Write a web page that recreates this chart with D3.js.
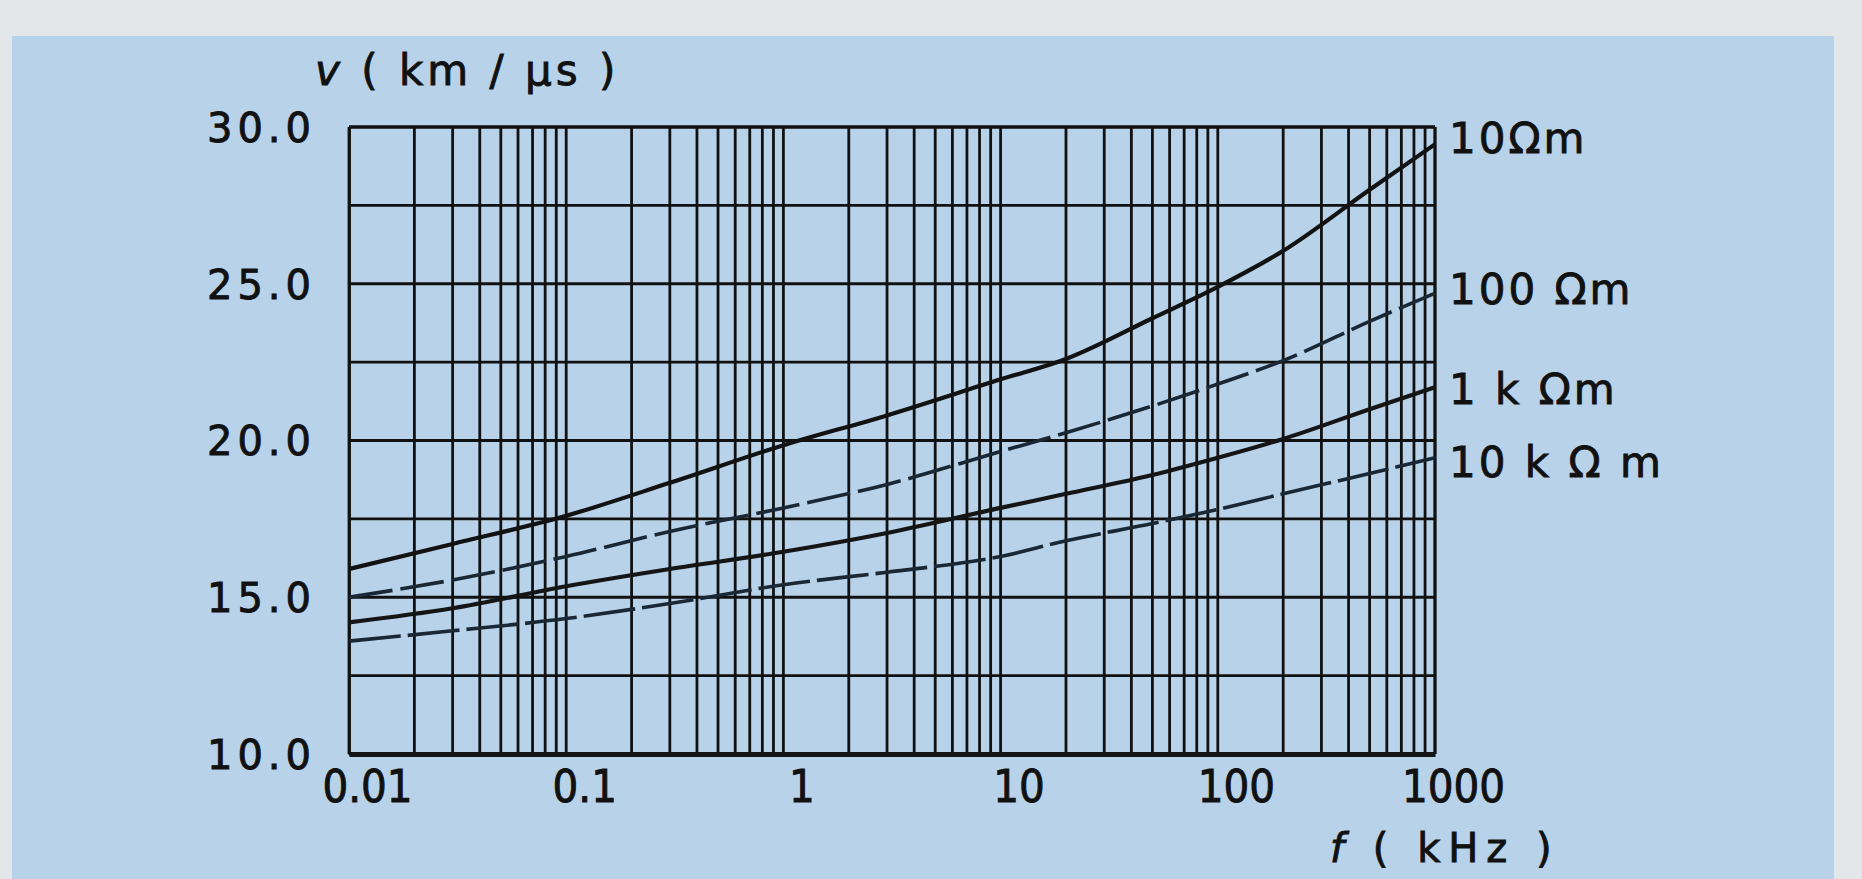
<!DOCTYPE html>
<html>
<head>
<meta charset="utf-8">
<script src="https://cdn.jsdelivr.net/npm/d3@7/dist/d3.min.js"></script>
<style>
  html, body { margin: 0; padding: 0; background: #e4e8eb; }
  svg { display: block; }
</style>
</head>
<body>
<svg id="chart" width="1862" height="879"></svg>
<script>
// ---- data ----
const freqs = [0.01, 0.03, 0.1, 0.3, 1, 3, 10, 20, 50, 100, 200, 500, 1000]; // kHz
const v10ohm  = [15.9, 16.7, 17.6, 18.65, 19.85, 20.8, 21.95, 22.6, 23.9, 24.9, 26.05, 28.0, 29.45];
const v100ohm = [15.0, 15.55, 16.3, 17.1, 17.85, 18.6, 19.65, 20.25, 21.1, 21.8, 22.55, 23.8, 24.7];
const v1kohm  = [14.2, 14.65, 15.35, 15.9, 16.45, 17.05, 17.85, 18.3, 18.9, 19.45, 20.05, 21.0, 21.7];
const v10kohm = [13.6, 13.93, 14.32, 14.8, 15.4, 15.8, 16.3, 16.8, 17.35, 17.8, 18.3, 18.95, 19.45];
const seriesNames = ["10Ωm", "100 Ωm", "1 k Ωm", "10 k Ω m"];
const xTickValues = [0.01, 0.1, 1, 10, 100, 1000];
const xTickLabels = ["0.01", "0.1", "1", "10", "100", "1000"];
const yTickValues = [10, 15, 20, 25, 30];
const yTickLabels = ["10.0", "15.0", "20.0", "25.0", "30.0"];
const yGridValues = [10, 12.5, 15, 17.5, 20, 22.5, 25, 27.5, 30];
const yTitleSymbol = "v", yTitleUnit = " ( km / μs )";
const xTitleSymbol = "f", xTitleUnit = " ( kHz )";

const series = [
  { name: seriesNames[0], values: v10ohm,  width: 4.2, color: "#121212", dash: null },
  { name: seriesNames[1], values: v100ohm, width: 3.6, color: "#1a2735", dash: "44 8" },
  { name: seriesNames[2], values: v1kohm,  width: 4.2, color: "#151515", dash: null },
  { name: seriesNames[3], values: v10kohm, width: 3.6, color: "#1a2735", dash: "52 7" }
];

const svg = d3.select("#chart");
const W = 1862, H = 879;
const margin = { left: 349, top: 127, right: 427, bottom: 125 };
const iw = W - margin.left - margin.right;
const ih = H - margin.top - margin.bottom;

// panel background
svg.append("rect").attr("x", 0).attr("y", 0).attr("width", W).attr("height", H).attr("fill", "#e3e7ea");
svg.append("rect").attr("x", 12).attr("y", 36).attr("width", 1822).attr("height", H - 36).attr("fill", "#b8d3e9");

const g = svg.append("g").attr("transform", `translate(${margin.left},${margin.top})`);

const x = d3.scaleLog().domain([0.01, 1000]).range([0, iw]);
const y = d3.scaleLinear().domain([10, 30]).range([ih, 0]);

// vertical log grid lines (1..9 per decade)
const vGrid = [];
for (let e = -2; e < 3; e++) {
  for (let m = 1; m <= 9; m++) vGrid.push(m * Math.pow(10, e));
}
vGrid.push(1000);
g.append("g").selectAll("line").data(vGrid).join("line")
  .attr("x1", d => x(d)).attr("x2", d => x(d))
  .attr("y1", 0).attr("y2", ih)
  .attr("stroke", "#111").attr("stroke-width", 2.8);

// horizontal grid
g.append("g").selectAll("line").data(yGridValues).join("line")
  .attr("x1", 0).attr("x2", iw)
  .attr("y1", d => y(d)).attr("y2", d => y(d))
  .attr("stroke", "#111").attr("stroke-width", 2.8);

const textStyle = sel => sel
  .attr("fill", "#111").attr("stroke", "#111").attr("stroke-width", 0.9)
  .attr("paint-order", "stroke");

// bottom axis (thicker)
const xAxis = d3.axisBottom(x).tickValues(xTickValues).tickSize(0)
  .tickFormat((d, i) => xTickLabels[i]);
const xg = g.append("g").attr("transform", `translate(0,${ih})`).call(xAxis);
xg.select(".domain").attr("stroke", "#151515").attr("stroke-width", 5);
xg.selectAll("text")
  .attr("font-family", "'DejaVu Sans Condensed', 'Liberation Sans Narrow', sans-serif")
  .attr("font-size", 45)
  .attr("dy", "1.0em").attr("dx", 18)
  .call(textStyle);

// left axis
const yAxis = d3.axisLeft(y).tickValues(yTickValues).tickSize(0).tickPadding(33)
  .tickFormat((d, i) => yTickLabels[i]);
const yg = g.append("g").call(yAxis);
yg.select(".domain").attr("stroke", "#111").attr("stroke-width", 2.8);
yg.selectAll("text")
  .attr("font-family", "'DejaVu Sans', sans-serif")
  .attr("font-size", 40)
  .attr("dx", 0).attr("dy", "0.36em")
  .style("letter-spacing", "5px")
  .call(textStyle);

// frame: top and right
g.append("line").attr("x1", 0).attr("x2", iw).attr("y1", 0).attr("y2", 0)
  .attr("stroke", "#111").attr("stroke-width", 2.8);
g.append("line").attr("x1", iw).attr("x2", iw).attr("y1", 0).attr("y2", ih)
  .attr("stroke", "#111").attr("stroke-width", 2.8);

// curves
const line = d3.line()
  .x((d, i) => x(freqs[i]))
  .y(d => y(d))
  .curve(d3.curveMonotoneX);

g.append("g").selectAll("path").data(series).join("path")
  .attr("d", s => line(s.values))
  .attr("fill", "none")
  .attr("stroke", s => s.color)
  .attr("stroke-width", s => s.width)
  .attr("stroke-dasharray", s => s.dash)
  .attr("stroke-linejoin", "round");

// right labels
const labelDy = [-6, -4, 2, 4];
g.append("g").selectAll("text").data(series).join("text")
  .attr("x", iw + 14)
  .attr("y", (s, i) => y(s.values[s.values.length - 1]) + labelDy[i])
  .attr("dy", "0.36em")
  .attr("font-family", "'DejaVu Sans', sans-serif")
  .attr("font-size", 42)
  .style("letter-spacing", "3px")
  .call(textStyle)
  .text(s => s.name);

// axis titles
const yt = g.append("text")
  .attr("x", -34).attr("y", -42)
  .attr("font-family", "'DejaVu Sans', sans-serif")
  .attr("font-size", 42)
  .style("letter-spacing", "4px")
  .call(textStyle);
yt.append("tspan").attr("font-style", "italic").text(yTitleSymbol);
yt.append("tspan").text(yTitleUnit);

const xt = g.append("text")
  .attr("x", iw - 105).attr("y", ih + 108)
  .attr("font-family", "'DejaVu Sans', sans-serif")
  .attr("font-size", 40)
  .style("letter-spacing", "8px")
  .call(textStyle);
xt.append("tspan").attr("font-style", "italic").text(xTitleSymbol);
xt.append("tspan").text(xTitleUnit);
</script>
</body>
</html>
